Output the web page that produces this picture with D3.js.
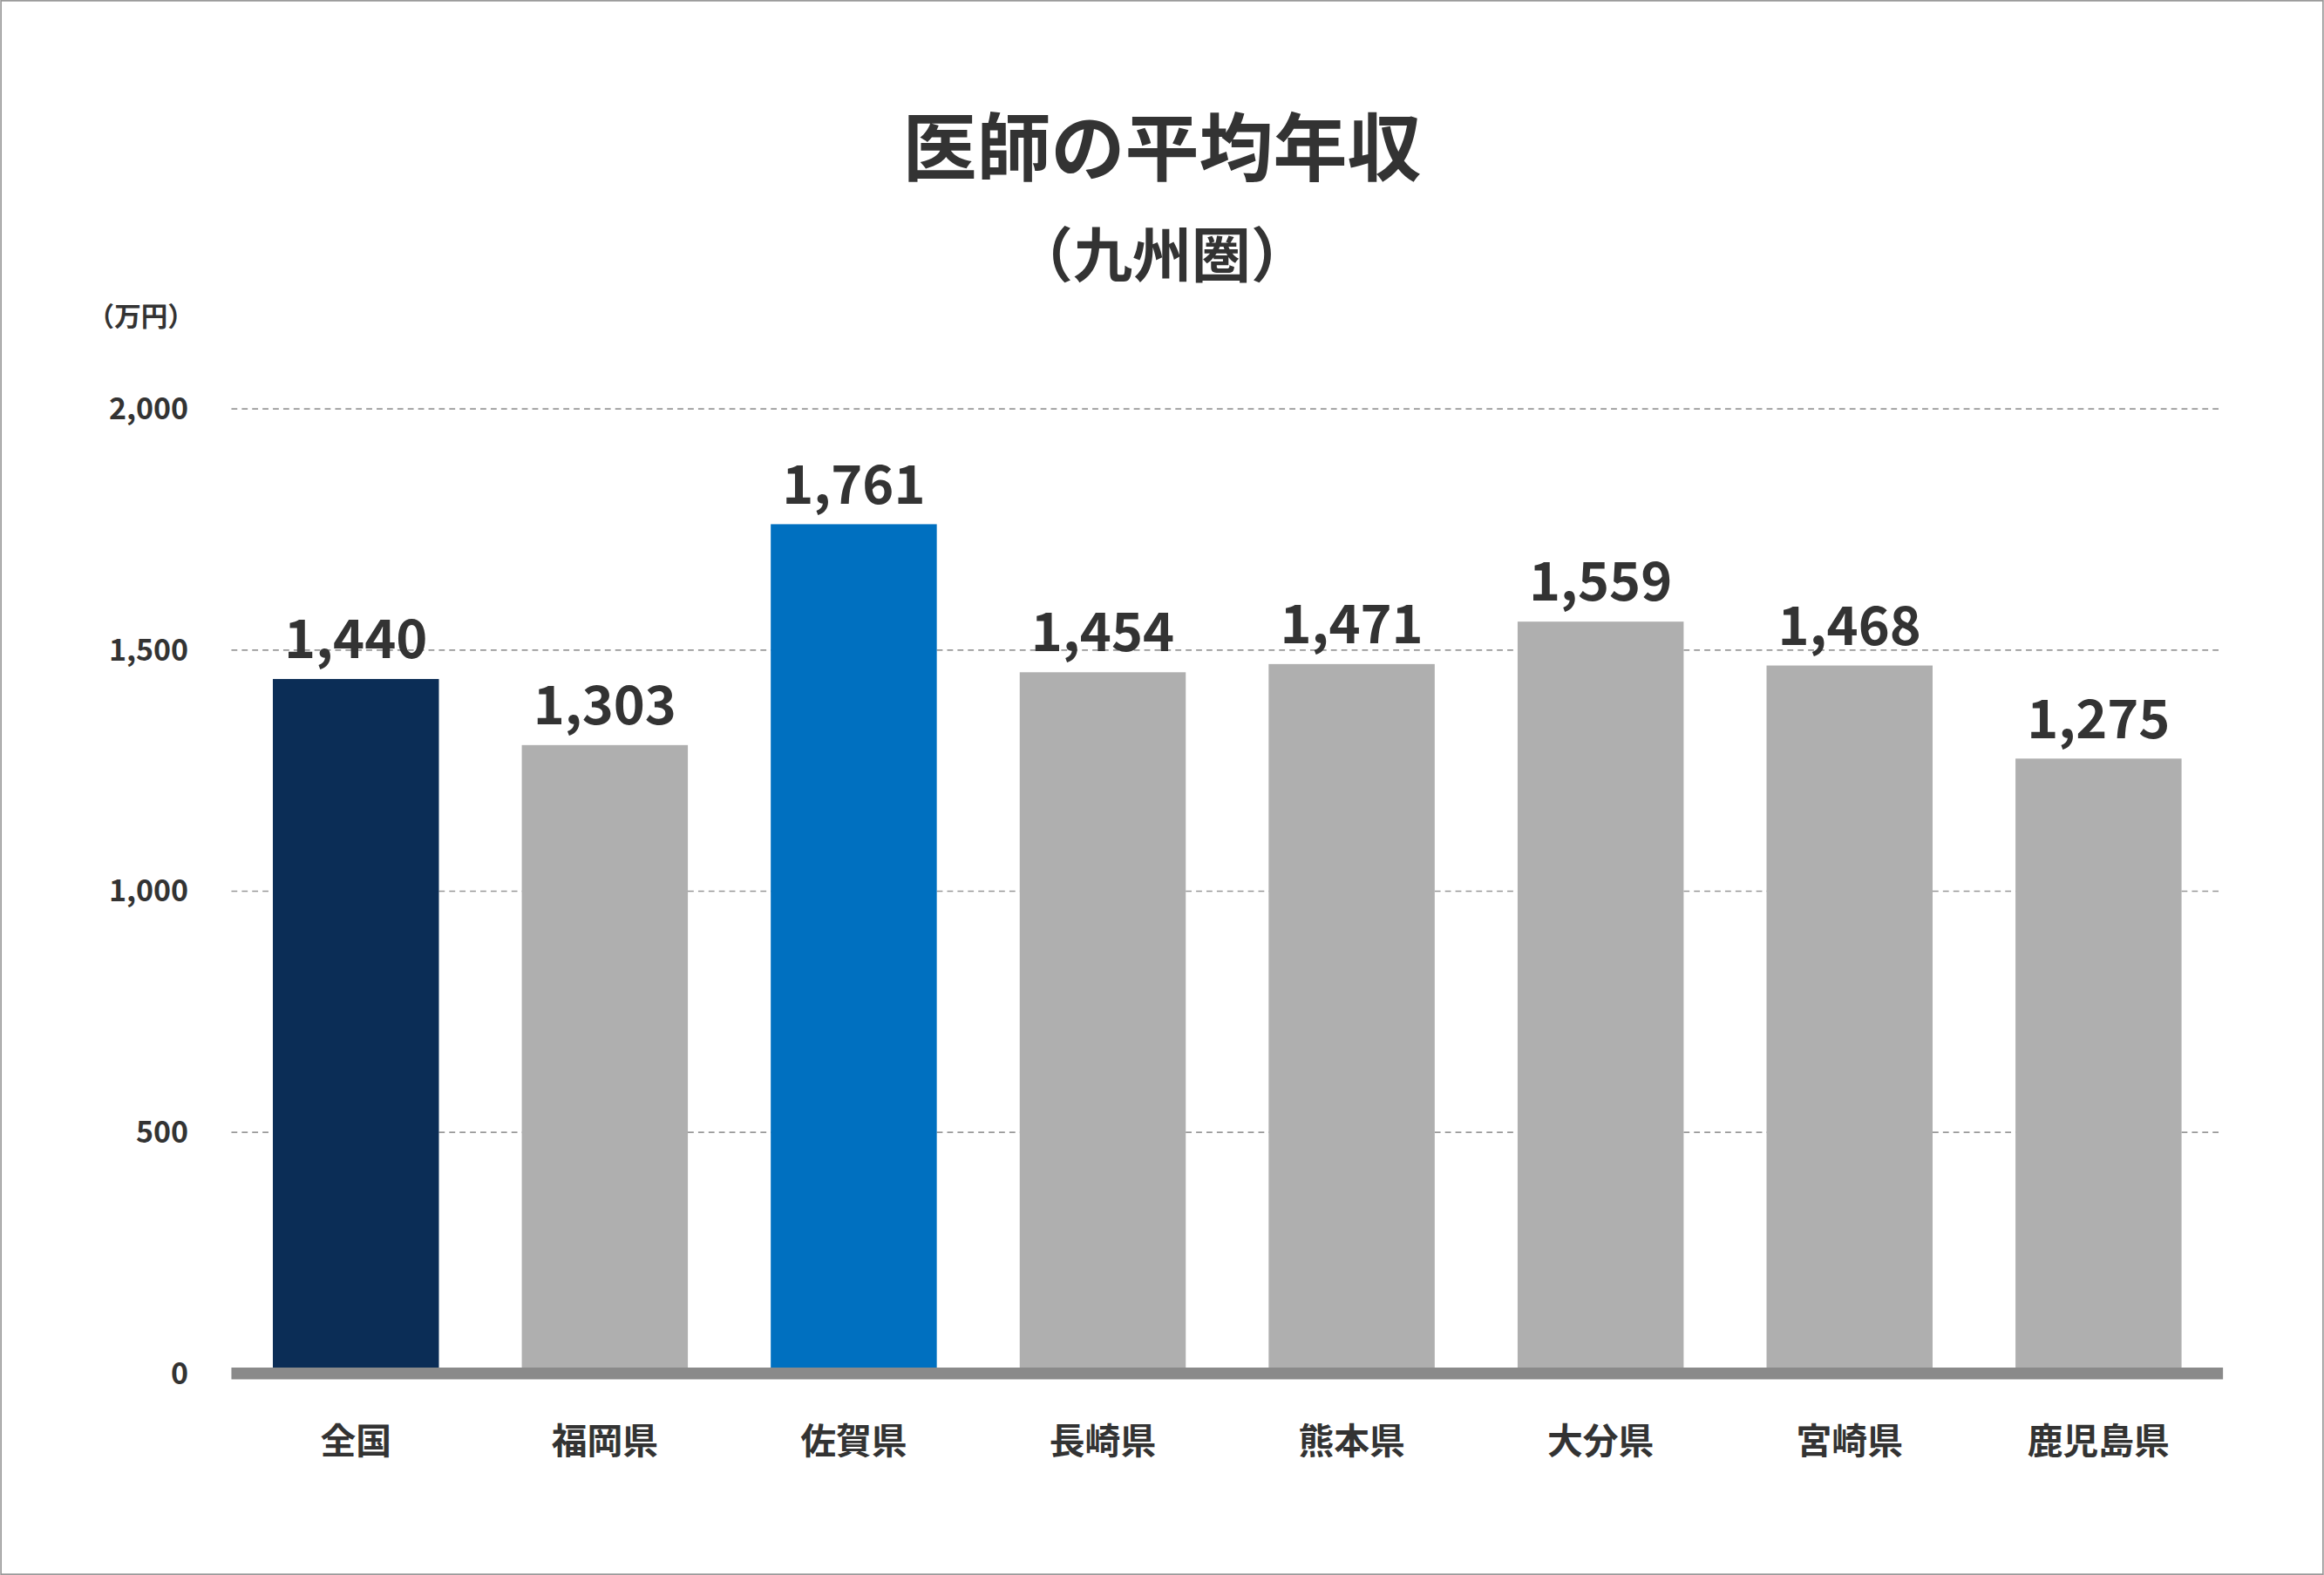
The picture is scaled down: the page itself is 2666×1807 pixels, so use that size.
<!DOCTYPE html>
<html><head><meta charset="utf-8">
<script src="https://cdn.jsdelivr.net/npm/d3@7"></script>
<style>body{margin:0;background:#fff}svg{display:block}text{font-family:"Noto Sans CJK JP",sans-serif;font-weight:bold;fill:#333}</style>
</head><body>
<script>
var categories = ["全国","福岡県","佐賀県","長崎県","熊本県","大分県","宮崎県","鹿児島県"];
var values = [1440,1303,1761,1454,1471,1559,1468,1275];
var colors = ["#0B2D56","#AFAFAF","#0070C0","#AFAFAF","#AFAFAF","#AFAFAF","#AFAFAF","#AFAFAF"];
var ticks = [0,500,1000,1500,2000];

var W = 1568, H = 1063;
var svg = d3.select("body").append("svg")
    .attr("width", 2666).attr("height", 1807)
    .attr("viewBox", "0 0 " + W + " " + H);

svg.append("rect").attr("x",0.5).attr("y",0.5).attr("width",W-1).attr("height",H-1)
    .attr("fill","#fff").attr("stroke","#999");

var x = d3.scaleBand().domain(categories).range([156,1500]).paddingInner(0.333).paddingOuter(0.1665);
var y = d3.scaleLinear().domain([0,2000]).range([927,276]);

// gridlines
svg.selectAll(".grid").data(ticks.filter(function(t){return t>0}))
    .enter().append("line")
    .attr("x1",156).attr("x2",1500)
    .attr("y1",function(d){return y(d)}).attr("y2",function(d){return y(d)})
    .attr("stroke","#999").attr("stroke-dasharray","4,3").attr("stroke-width",1);

// y labels
svg.selectAll(".yl").data(ticks).enter().append("text")
    .attr("x",127).attr("y",function(d){return y(d)+7})
    .attr("text-anchor","end").attr("font-size",20)
    .text(function(d){return d3.format(",")(d)});

svg.selectAll(".bar").data(values).enter().append("rect")
    .attr("x",function(d,i){return x(categories[i])})
    .attr("width",x.bandwidth())
    .attr("y",function(d){return y(d)})
    .attr("height",function(d){return y(0)-y(d)})
    .attr("fill",function(d,i){return colors[i]});

svg.selectAll(".vl").data(values).enter().append("text")
    .attr("x",function(d,i){return x(categories[i])+x.bandwidth()/2})
    .attr("y",function(d){return y(d)-14})
    .attr("text-anchor","middle").attr("font-size",36)
    .text(function(d){return d3.format(",")(d)});

// axis line
svg.append("line").attr("x1",156).attr("x2",1500).attr("y1",y(0)).attr("y2",y(0))
    .attr("stroke","#8A8A8A").attr("stroke-width",8);

svg.selectAll(".cl").data(categories).enter().append("text")
    .attr("x",function(d){return x(d)+x.bandwidth()/2})
    .attr("y",981).attr("text-anchor","middle").attr("font-size",24)
    .text(function(d){return d});

svg.append("text").attr("x",784).attr("y",118).attr("text-anchor","middle")
    .attr("font-size",50).text("医師の平均年収");
svg.append("text").attr("x",784).attr("y",187).attr("text-anchor","middle")
    .attr("font-size",40).text("（九州圏）");
svg.append("text").attr("x",95).attr("y",220).attr("text-anchor","middle")
    .attr("font-size",18).text("（万円）");
</script>
</body></html>
